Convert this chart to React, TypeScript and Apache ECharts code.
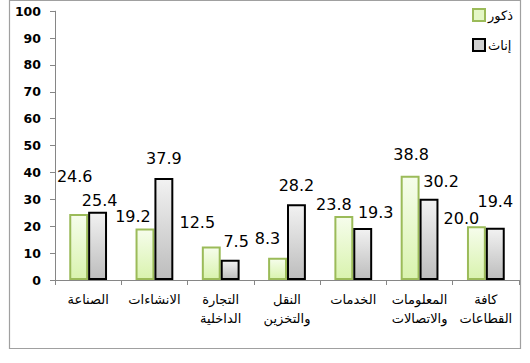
import React, { useEffect, useRef } from "react";
import * as echarts from "echarts";

const categories = [
  "الصناعة",
  "الانشاءات",
  "التجارة\nالداخلية",
  "النقل\nوالتخزين",
  "الخدمات",
  "المعلومات\nوالاتصالات",
  "كافة\nالقطاعات",
];
const seriesNames = ["ذكور", "إناث"];
const maleValues = [24.6, 19.2, 12.5, 8.3, 23.8, 38.8, 20.0];
const femaleValues = [25.4, 37.9, 7.5, 28.2, 19.3, 30.2, 19.4];
const yTicks = { min: 0, max: 100, interval: 10 };

// label displacement (style only), as in the reference
const maleLabelShift = [[-4, -29], [-12, -4], [-14, -16], [-10, -11], [-10, -4], [1, -13], [-15, 0]];
const femaleLabelShift = [[2, -3], [0, -12], [6, -10], [0, -11], [13, -8], [12, -9], [0, -18]];

export default function App() {
  const ref = useRef<HTMLDivElement>(null);
  useEffect(() => {
    if (!ref.current) return;
    const chart = echarts.init(ref.current, null, { renderer: "svg" });
    const greenFill = new echarts.graphic.LinearGradient(0, 0, 0, 1, [
      { offset: 0, color: "#f6fdec" },
      { offset: 1, color: "#d9f3ae" },
    ]);
    const grayFill = new echarts.graphic.LinearGradient(0, 0, 0, 1, [
      { offset: 0, color: "#f2f2f2" },
      { offset: 1, color: "#bdbdbd" },
    ]);
    const labelBase = {
      show: true,
      position: "top",
      distance: 0,
      fontFamily: "DejaVu Sans",
      fontSize: 16,
      color: "#000",
      formatter: (p: any) => Number(p.value).toFixed(1),
    };
    chart.setOption({
      animation: false,
      backgroundColor: "#fff",
      textStyle: { fontFamily: "DejaVu Sans" },
      grid: { left: 55, right: 11, top: 11.2, bottom: 83, containLabel: false },
      legend: {
        orient: "vertical",
        left: 467,
        top: 3,
        itemWidth: 12,
        itemHeight: 12,
        itemGap: 16,
        textStyle: { fontFamily: "DejaVu Sans", fontSize: 13, fontWeight: "normal", color: "#000", padding: [0, 0, 0, -2] },
        data: [
          { name: seriesNames[0], icon: "rect", itemStyle: { color: "#e4f7c6", borderColor: "#9bbb59", borderWidth: 2 } },
          { name: seriesNames[1], icon: "rect", itemStyle: { color: "#d0d0d0", borderColor: "#000", borderWidth: 2 } },
        ],
      },
      xAxis: {
        type: "category",
        data: categories,
        axisLine: { lineStyle: { color: "#868686", width: 1 } },
        axisTick: { show: true, length: 5, lineStyle: { color: "#868686" } },
        axisLabel: {
          interval: 0,
          margin: 10,
          fontFamily: "DejaVu Sans",
          fontSize: 13,
          fontWeight: "normal",
          lineHeight: 19,
          color: "#000",
        },
        splitLine: { show: false },
      },
      yAxis: {
        type: "value",
        min: yTicks.min,
        max: yTicks.max,
        interval: yTicks.interval,
        axisLine: { show: true, lineStyle: { color: "#868686", width: 1 } },
        axisTick: { show: true, length: 5, lineStyle: { color: "#868686" } },
        axisLabel: {
          margin: 14,
          fontFamily: "DejaVu Sans",
          fontWeight: "bold",
          fontSize: 12.5,
          color: "#000",
        },
        splitLine: { show: false },
      },
      series: [
        {
          name: seriesNames[0],
          type: "bar",
          barGap: "0%",
          barCategoryGap: "43%",
          itemStyle: { color: greenFill, borderColor: "#9bbb59", borderWidth: 2 },
          data: maleValues.map((v, i) => ({
            value: v,
            label: { ...labelBase, offset: maleLabelShift[i] },
          })),
        },
        {
          name: seriesNames[1],
          type: "bar",
          barGap: "0%",
          barCategoryGap: "43%",
          itemStyle: { color: grayFill, borderColor: "#000", borderWidth: 2 },
          data: femaleValues.map((v, i) => ({
            value: v,
            label: { ...labelBase, offset: femaleLabelShift[i] },
          })),
        },
      ],
      graphic: [
        {
          type: "rect",
          silent: true,
          shape: { x: 9.5, y: 0.5, width: 511, height: 348 },
          style: { fill: "none", stroke: "#a0a0a0", lineWidth: 1.2 },
          z: 100,
        },
      ],
    });
    return () => chart.dispose();
  }, []);
  return (
    <div
      ref={ref}
      style={{ position: "absolute", left: 0, top: 0, width: 530, height: 363 }}
    />
  );
}
